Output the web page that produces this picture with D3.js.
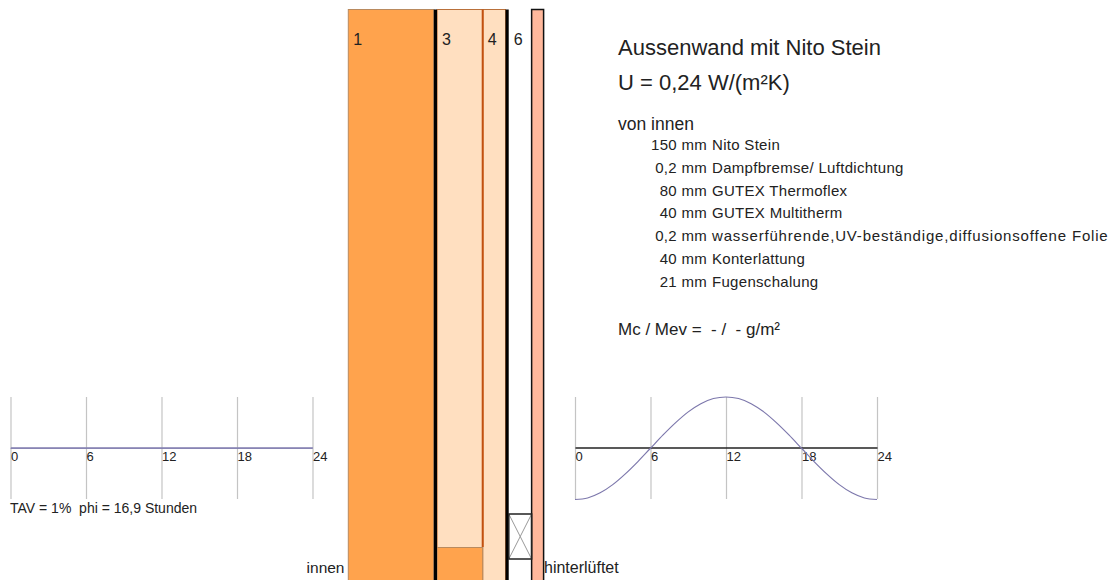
<!DOCTYPE html>
<html>
<head>
<meta charset="utf-8">
<script src="https://cdn.jsdelivr.net/npm/d3@7"></script>
<style>
  html, body { margin: 0; padding: 0; background: #fff; overflow: hidden; }
  text { font-family: "Liberation Sans", Arial, sans-serif; fill: #222; }
</style>
</head>
<body>
<div id="app"></div>
<script>
// wall layers from inside to outside, thickness in mm
const layerNames = ["Nito Stein", "Dampfbremse", "Thermoflex", "Multitherm", "Folie", "Konterlattung", "Fugenschalung"];
const layerThickness = [150, 0.2, 80, 40, 0.2, 40, 21];
const layerFill = ["#ffa34d", "#000000", "#ffdfc0", "#ffdfc0", "#000000", "#ffffff", "#ffb89c"];
const layerStroke = ["#b98a5e", "#000000", "#b9703a", "#b9703a", "#000000", "none", "#111111"];
const layerLabels = ["1", "", "3", "4", "", "6", ""];

const titleLines = ["Aussenwand mit Nito Stein", "U = 0,24 W/(m²K)"];
const buildUp = [
  ["150 mm", "Nito Stein"],
  ["0,2 mm", "Dampfbremse/ Luftdichtung"],
  ["80 mm", "GUTEX Thermoflex"],
  ["40 mm", "GUTEX Multitherm"],
  ["0,2 mm", "wasserführende,UV-beständige,diffusionsoffene Folie"],
  ["40 mm", "Konterlattung"],
  ["21 mm", "Fugenschalung"]
];

const hourTicks = [0, 6, 12, 18, 24];
const hours = d3.range(0, 25);
const innerCurve = [0, 0, 0, 0, 0, 0, 0, 0, 0, 0, 0, 0, 0, 0, 0, 0, 0, 0, 0, 0, 0, 0, 0, 0, 0];
const outerCurve = [-1, -0.97, -0.87, -0.71, -0.5, -0.26, 0, 0.26, 0.5, 0.71, 0.87, 0.97, 1, 0.97, 0.87, 0.71, 0.5, 0.26, 0, -0.26, -0.5, -0.71, -0.87, -0.97, -1];

const svg = d3.select("#app").append("svg").attr("width", 1113).attr("height", 580).style("display", "block");

//wall scale, foils get a fixed drawn width on top of the scale
const foilWidth = 3.2;
const totalMm = d3.sum(layerThickness);
const wallX = d3.scaleLinear().domain([0, totalMm]).range([348.3, 348.3 + totalMm * 0.57]);
const wallTop = 9.5, wallBottom = 585;

let cum = 0;
let foilsBefore = 0;
const layers = layerNames.map((name, i) => {
  const isFoil = layerThickness[i] <= 1;
  const x0 = wallX(cum) + foilsBefore * foilWidth;
  cum += layerThickness[i];
  if (isFoil) foilsBefore += 1;
  const x1 = isFoil ? x0 + foilWidth : wallX(cum) + foilsBefore * foilWidth;
  return { name, isFoil, x0, x1, fill: layerFill[i], stroke: layerStroke[i], label: layerLabels[i] };
});

const wall = svg.append("g");
wall.selectAll("rect.layer")
  .data(layers.filter((d) => !d.isFoil && d.stroke !== "none"))
  .enter()
  .append("rect")
  .attr("class", "layer")
  .attr("x", (d) => d.x0)
  .attr("y", wallTop)
  .attr("width", (d) => d.x1 - d.x0)
  .attr("height", wallBottom - wallTop)
  .attr("fill", (d) => d.fill)
  .attr("stroke", (d) => d.stroke)
  .attr("stroke-width", (d) => (d.name === "Fugenschalung" ? 1.5 : 1));

//stud in the insulation layer
const stud = layers[2];
wall.append("rect")
  .attr("x", stud.x0)
  .attr("y", 547.5)
  .attr("width", stud.x1 - stud.x0)
  .attr("height", 40)
  .attr("fill", "#ffa34d")
  .attr("stroke", "#b98a5e");

//boundary between layers 3 and 4
wall.append("line")
  .attr("x1", stud.x1).attr("x2", stud.x1)
  .attr("y1", wallTop).attr("y2", 547)
  .attr("stroke", "#c2500f")
  .attr("stroke-width", 2);

//foils drawn as thick black lines
wall.selectAll("rect.foil")
  .data(layers.filter((d) => d.isFoil))
  .enter()
  .append("rect")
  .attr("class", "foil")
  .attr("x", (d) => d.x0)
  .attr("y", wallTop)
  .attr("width", (d) => d.x1 - d.x0)
  .attr("height", wallBottom - wallTop)
  .attr("fill", "#000");

//batten
const batten = layers[5];
const battenG = wall.append("g").attr("fill", "none");
battenG.append("path")
  .attr("d", d3.line()([[batten.x0, 514], [batten.x1, 559]]) + d3.line()([[batten.x1, 514], [batten.x0, 559]]))
  .attr("stroke", "#999");
battenG.append("rect")
  .attr("x", batten.x0).attr("y", 514).attr("width", batten.x1 - batten.x0).attr("height", 45)
  .attr("stroke", "#222").attr("stroke-width", 1.5);

wall.selectAll("text")
  .data(layers.filter((d) => d.label))
  .enter()
  .append("text")
  .attr("x", (d) => d.x0 + 5)
  .attr("y", 45)
  .attr("font-size", 16)
  .text((d) => d.label);

svg.append("text").attr("x", 344.5).attr("y", 573).attr("text-anchor", "end").attr("font-size", 15.5).text("innen");
svg.append("text").attr("x", 544).attr("y", 573).attr("font-size", 16).text("hinterlüftet");

//description
svg.selectAll("text.title")
  .data(titleLines)
  .enter()
  .append("text")
  .attr("class", "title")
  .attr("x", 618)
  .attr("y", (d, i) => 55 + i * 35)
  .attr("font-size", 22)
  .text((d) => d);

svg.append("text").attr("x", 618).attr("y", 130).attr("font-size", 17.5).text("von innen");

const rows = svg.selectAll("g.row").data(buildUp).enter().append("g").attr("class", "row")
  .attr("transform", (d, i) => `translate(0,${150 + i * 22.8})`);
rows.append("text").attr("x", 707).attr("text-anchor", "end").attr("font-size", 15).attr("letter-spacing", 0.3).text((d) => d[0]);
rows.append("text").attr("x", 712).attr("font-size", 15).attr("letter-spacing", 0.3)
  .attr("textLength", (d) => (d[1].length > 40 ? 396 : null))
  .text((d) => d[1]);

svg.append("text").attr("x", 618).attr("y", 335).attr("font-size", 17)
  .text("Mc / Mev =\u00a0\u00a0-\u00a0/\u00a0\u00a0-\u00a0g/m²");

svg.append("text").attr("x", 10).attr("y", 513).attr("font-size", 14).text("TAV = 1%\u00a0\u00a0phi = 16,9 Stunden");

//small daily charts
function dayChart(x0, values, axisColor) {
  const x = d3.scaleLinear().domain([0, 24]).range([x0, x0 + 302]);
  const y = d3.scaleLinear().domain([-1, 1]).range([499.5, 397]);
  const g = svg.append("g");

  const grid = g.append("g").attr("transform", "translate(0,397)")
    .call(d3.axisBottom(x).tickValues(hourTicks).tickSize(102).tickFormat(""));
  grid.select(".domain").remove();
  grid.selectAll("line").attr("stroke", "#c4c4c4").attr("stroke-width", 1.2);

  const axis = g.append("g").attr("transform", `translate(0,${y(0) - 0.75})`)
    .call(d3.axisBottom(x).tickValues(hourTicks).tickSize(0).tickPadding(4));
  axis.select(".domain").attr("stroke", axisColor).attr("stroke-width", 1.5);
  axis.selectAll("text")
    .attr("text-anchor", "start")
    .attr("font-family", "Liberation Sans, Arial, sans-serif")
    .attr("font-size", 13)
    .attr("fill", "#222");

  g.append("path")
    .attr("d", d3.line().x((d, i) => x(hours[i])).y((d) => y(d)).curve(d3.curveMonotoneX)(values))
    .attr("fill", "none")
    .attr("stroke", "#7d78ac")
    .attr("stroke-width", 1.2);
}
dayChart(10.5, innerCurve, "#8f8cb8");
dayChart(575, outerCurve, "#222");
</script>
</body>
</html>
